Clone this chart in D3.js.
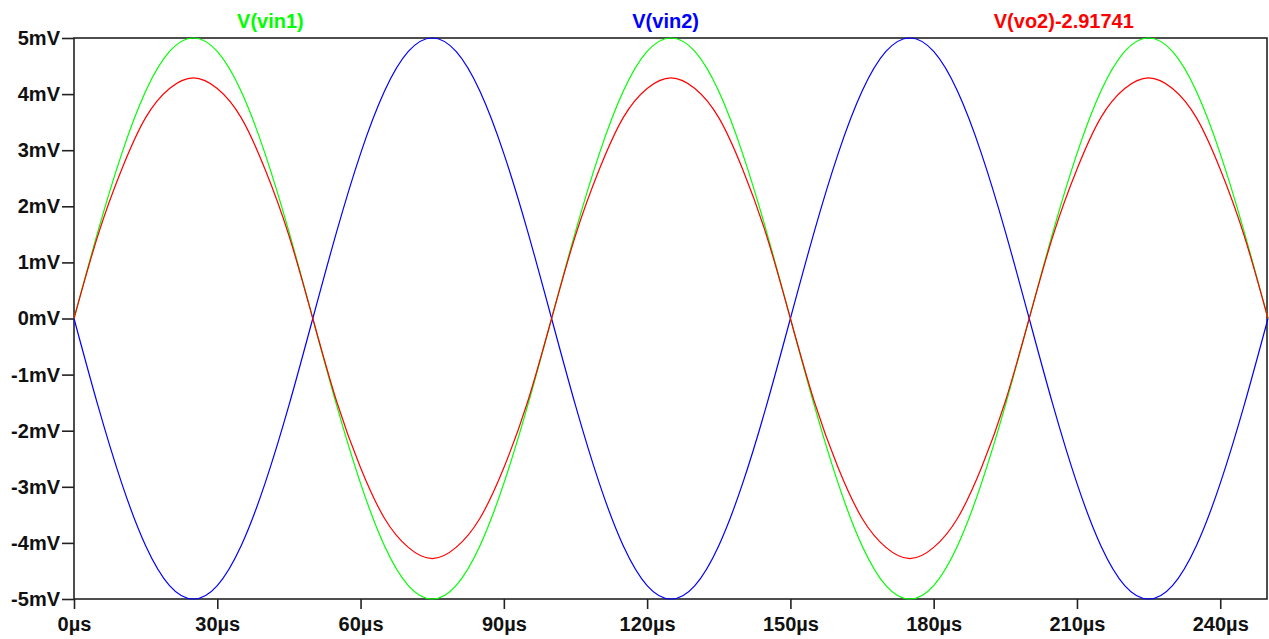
<!DOCTYPE html>
<html>
<head>
<meta charset="utf-8">
<script src="https://cdn.jsdelivr.net/npm/d3@7"></script>
<style>
html,body{margin:0;padding:0;background:#fff;}
svg{display:block;}
text{font-family:"Liberation Sans",Arial,sans-serif;font-weight:bold;}
</style>
</head>
<body>
<svg id="chart" width="1269" height="639"></svg>
<script>
// time in µs, values in mV (5 µs steps)
const times = [0,5,10,15,20,25,30,35,40,45,50,55,60,65,70,75,80,85,90,95,100,105,110,115,120,125,130,135,140,145,150,155,160,165,170,175,180,185,190,195,200,205,210,215,220,225,230,235,240,245,250];
const vin1 = [0,1.55,2.94,4.05,4.76,5.00,4.76,4.05,2.94,1.55,0,-1.55,-2.94,-4.05,-4.76,-5.00,-4.76,-4.05,-2.94,-1.55,0,1.55,2.94,4.05,4.76,5.00,4.76,4.05,2.94,1.55,0,-1.55,-2.94,-4.05,-4.76,-5.00,-4.76,-4.05,-2.94,-1.55,0,1.55,2.94,4.05,4.76,5.00,4.76,4.05,2.94,1.55,0];
const vin2 = [0,-1.55,-2.94,-4.05,-4.76,-5.00,-4.76,-4.05,-2.94,-1.55,0,1.55,2.94,4.05,4.76,5.00,4.76,4.05,2.94,1.55,0,-1.55,-2.94,-4.05,-4.76,-5.00,-4.76,-4.05,-2.94,-1.55,0,1.55,2.94,4.05,4.76,5.00,4.76,4.05,2.94,1.55,0,-1.55,-2.94,-4.05,-4.76,-5.00,-4.76,-4.05,-2.94,-1.55,0];
const vo2 = [0,1.48,2.66,3.58,4.10,4.29,4.10,3.58,2.66,1.48,0,-1.48,-2.66,-3.56,-4.08,-4.28,-4.08,-3.56,-2.66,-1.48,0,1.48,2.66,3.58,4.10,4.29,4.10,3.58,2.66,1.48,0,-1.48,-2.66,-3.56,-4.08,-4.28,-4.08,-3.56,-2.66,-1.48,0,1.48,2.66,3.58,4.10,4.29,4.10,3.58,2.66,1.48,0];

const seriesNames = ["V(vin1)","V(vin2)","V(vo2)-2.91741"];
const seriesColors = ["#00ff00","#0000ff","#ff0000"];
const seriesValues = [vin1, vin2, vo2];

const xTicks = [0,30,60,90,120,150,180,210,240];
const xTickLabels = ["0µs","30µs","60µs","90µs","120µs","150µs","180µs","210µs","240µs"];
const yTicks = [-5,-4,-3,-2,-1,0,1,2,3,4,5];
const yTickLabels = ["-5mV","-4mV","-3mV","-2mV","-1mV","0mV","1mV","2mV","3mV","4mV","5mV"];
const titleCenters = [0.1645, 0.4955, 0.829]; // fraction of plot width

const W = 1269, H = 639;
const m = {left:74, right:1, top:38, bottom:40};
const svg = d3.select("#chart");

const x = d3.scaleLinear().domain([0,250]).range([m.left, W - m.right]);
const y = d3.scaleLinear().domain([-5,5]).range([H - m.bottom, m.top]);

// axes
const xAxis = d3.axisBottom(x).tickValues(xTicks).tickSize(10).tickPadding(8)
  .tickFormat((d,i)=>xTickLabels[i]);
const yAxis = d3.axisLeft(y).tickValues(yTicks).tickSize(12).tickPadding(2)
  .tickFormat((d,i)=>yTickLabels[i]);

const gx = svg.append("g").attr("transform",`translate(0,${H - m.bottom})`).call(xAxis);
const gy = svg.append("g").attr("transform",`translate(${m.left},0)`).call(yAxis);
[gx,gy].forEach(g=>{
  g.select(".domain").remove();
  g.selectAll(".tick line").attr("stroke","#222").attr("stroke-width",1.6);
  g.selectAll(".tick text").attr("fill","#111").style("font-size","20px").style("font-weight","bold")
   .style("font-family","'Liberation Sans',Arial,sans-serif");
});

// plot frame
svg.append("rect")
  .attr("x", x(0)).attr("y", y(5))
  .attr("width", x(250)-x(0)-1).attr("height", y(-5)-y(5))
  .attr("fill","none").attr("stroke","#222").attr("stroke-width",1.6);

// lines
const line = d3.line().curve(d3.curveNatural);
seriesValues.forEach((vals,k)=>{
  svg.append("path")
    .attr("d", line(times.map((t,i)=>[x(t), y(vals[i])])))
    .attr("fill","none").attr("stroke",seriesColors[k]).attr("stroke-width",1.2);
});

// titles
seriesNames.forEach((n,k)=>{
  svg.append("text")
    .attr("x", m.left + titleCenters[k]*(x(250)-x(0)))
    .attr("y", 28)
    .attr("text-anchor","middle")
    .attr("fill", seriesColors[k])
    .style("font-size","20px")
    .text(n);
});
</script>
</body>
</html>
